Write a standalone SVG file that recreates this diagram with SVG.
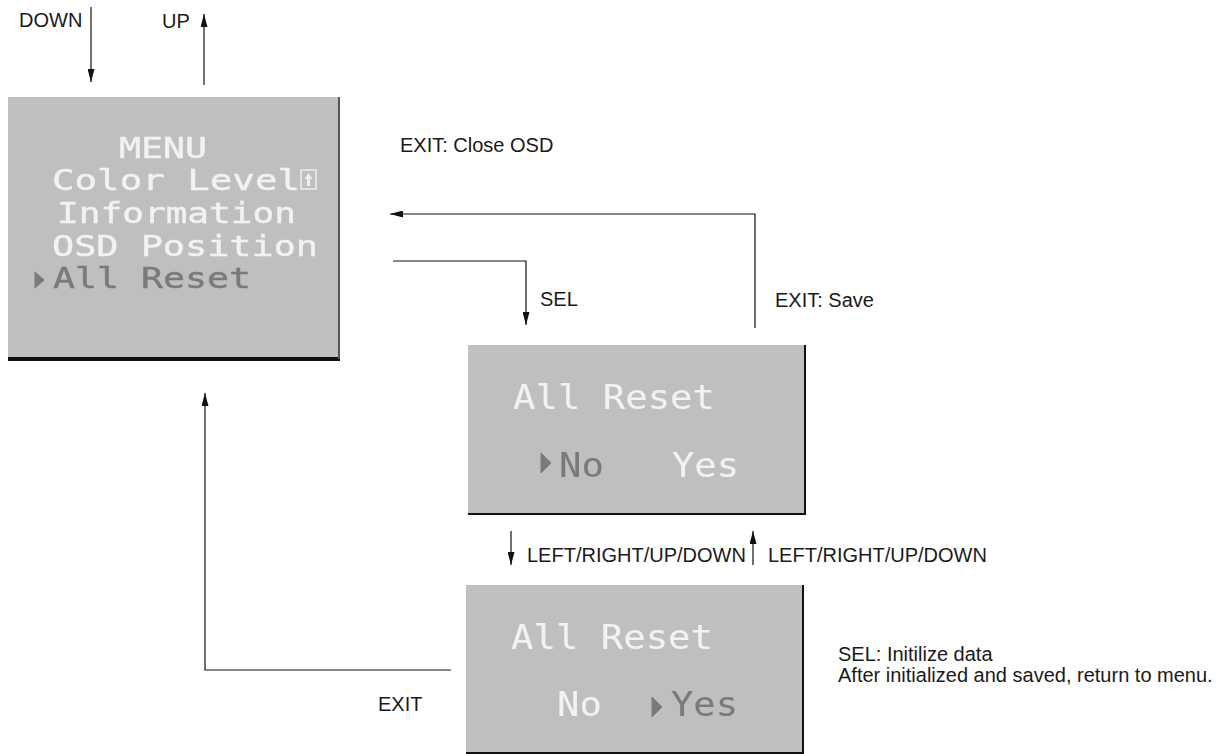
<svg xmlns="http://www.w3.org/2000/svg" width="1221" height="754" viewBox="0 0 1221 754">
<style>
.l{font-family:"Liberation Sans",Arial,sans-serif;font-size:20px;fill:#1a1a1a}
.o{font-family:"DejaVu Sans Mono","Liberation Mono",monospace;fill:#f2f2f2;stroke:#f2f2f2}
.m{font-size:27.9px;stroke-width:.4}
.g{font-size:34px;stroke-width:.1}
.d{fill:#7a7a7a;stroke:#7a7a7a}
.s{fill:#bfbfbf}
.c{fill:none;stroke:#111;stroke-width:1.2}
</style>
<defs>
<marker id="a" markerUnits="userSpaceOnUse" markerWidth="13" markerHeight="7" refX="13" refY="3.500" orient="auto" viewBox="0 0 13 7"><path d="M0 0L13 3.500L0 7Z" fill="#111"/></marker>
<filter id="b" x="-5%" y="-5%" width="110%" height="110%"><feGaussianBlur stdDeviation="0.7"/></filter>
</defs>
<g id="connectors">
<path class="c" d="M91 7V82" marker-end="url(#a)"/>
<path class="c" d="M204 85V14" marker-end="url(#a)"/>
<path class="c" d="M393 261H526V325" marker-end="url(#a)"/>
<path class="c" d="M755 328V214H390" marker-end="url(#a)"/>
<path class="c" d="M451 670H205V393" marker-end="url(#a)"/>
<path class="c" d="M511 531V565" marker-end="url(#a)"/>
<path class="c" d="M753 565V531" marker-end="url(#a)"/>
</g>
<g id="menu">
<rect x="8" y="97" width="332" height="264" fill="#111"/>
<rect x="8" y="97" width="330" height="260" class="s"/>
<rect x="338" y="97" width="2" height="262" fill="#555"/>
<g filter="url(#b)">
<text class="o m" x="119" y="157.500" textLength="88" lengthAdjust="spacingAndGlyphs">MENU</text>
<text class="o m" x="52" y="190" textLength="248" lengthAdjust="spacingAndGlyphs">Color Level</text>
<rect x="301" y="170" width="15" height="19" fill="none" stroke="#eee" stroke-width="1.500"/>
<path d="M308.500 173l4 6h-2.500v7h-3v-7h-2.500z" fill="#eee"/>
<text class="o m" x="57" y="223" textLength="239" lengthAdjust="spacingAndGlyphs">Information</text>
<text class="o m" x="52" y="255.500" textLength="266" lengthAdjust="spacingAndGlyphs">OSD Position</text>
<path d="M35 272l9 8-9 8z" class="d"/>
<text class="o m d" x="53" y="288" textLength="198" lengthAdjust="spacingAndGlyphs">All Reset</text>
</g>
</g>
<g id="confirm-no">
<rect x="468" y="345" width="338" height="170" fill="#111"/>
<rect x="468" y="345" width="336" height="168" class="s"/>
<g filter="url(#b)">
<text class="o g" x="513" y="409" textLength="202" lengthAdjust="spacingAndGlyphs">All Reset</text>
<path d="M541 453l10 10-10 10z" class="d"/>
<text class="o g d" x="559" y="477" textLength="45" lengthAdjust="spacingAndGlyphs">No</text>
<text class="o g" x="672" y="477" textLength="67" lengthAdjust="spacingAndGlyphs">Yes</text>
</g>
</g>
<g id="confirm-yes">
<rect x="466" y="585" width="338" height="169" fill="#111"/>
<rect x="466" y="585" width="336" height="167" class="s"/>
<g filter="url(#b)">
<text class="o g" x="511" y="649" textLength="202" lengthAdjust="spacingAndGlyphs">All Reset</text>
<text class="o g" x="557" y="716" textLength="45" lengthAdjust="spacingAndGlyphs">No</text>
<path d="M652 697l10 10-10 10z" class="d"/>
<text class="o g d" x="671" y="716" textLength="67" lengthAdjust="spacingAndGlyphs">Yes</text>
</g>
</g>
<g id="labels">
<text class="l" x="19" y="27">DOWN</text>
<text class="l" x="162" y="28">UP</text>
<text class="l" x="400" y="152">EXIT: Close OSD</text>
<text class="l" x="775" y="307">EXIT: Save</text>
<text class="l" x="540" y="306">SEL</text>
<text class="l" x="527" y="562">LEFT/RIGHT/UP/DOWN</text>
<text class="l" x="768" y="562">LEFT/RIGHT/UP/DOWN</text>
<text class="l" x="838" y="661">SEL: Initilize data</text>
<text class="l" x="838" y="682">After initialized and saved, return to menu.</text>
<text class="l" x="378" y="711">EXIT</text>
</g>
</svg>
